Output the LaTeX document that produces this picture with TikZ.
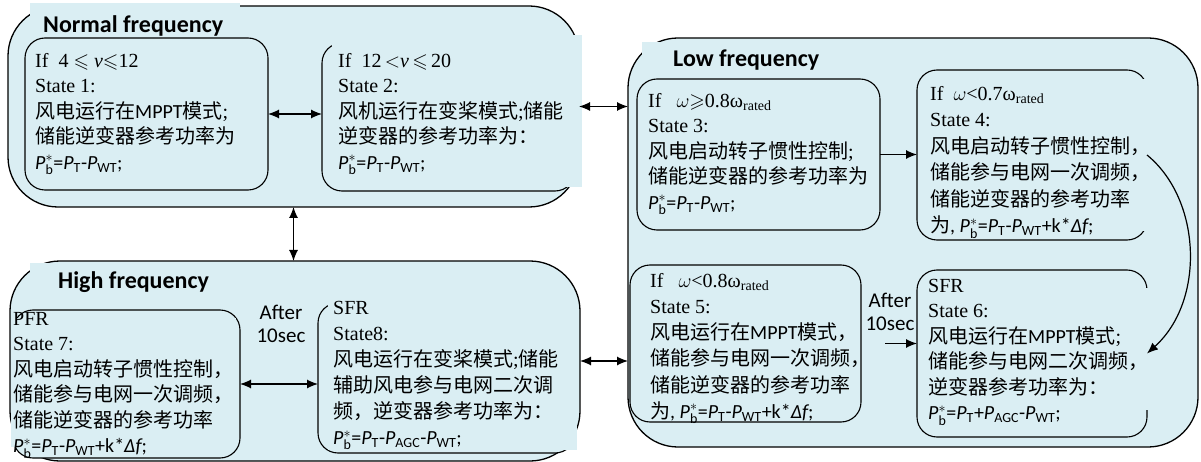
\RequirePackage{fix-cm}
\documentclass[tikz,border=0pt]{standalone}
\usepackage{amsmath,amssymb}
\usepackage{fontspec}
\setmainfont{Liberation Serif}
\setsansfont{Carlito}
\newfontfamily\cjk{Noto Sans CJK SC}
\usetikzlibrary{arrows.meta}
\definecolor{panel}{RGB}{218,238,243}
\newcommand{\Pv}[1]{\ensuremath{\textsf{\itshape P}_{\textsf{#1}}}}
\newcommand{\Pb}{\ensuremath{\textsf{\itshape P}_{\textsf{b}}^{*}}}

\begin{document}
\begin{tikzpicture}[x=1pt,y=-1pt,
    panelbox/.style = {draw, fill=panel, line width=1.3pt, rounded corners=50pt, inner sep=0pt, outer sep=0pt},
    statebox/.style = {draw, fill=panel, line width=1.1pt, rounded corners=20pt, inner sep=0pt, outer sep=0pt},
    cover/.style = {fill=panel},
    txt/.style = {anchor=north west, inner sep=0pt, align=left, font=\fontsize{20}{25.5}\selectfont, execute at begin node=\strut},
    ttl/.style = {anchor=base west, inner sep=0pt, font=\sffamily\bfseries\fontsize{24}{28}\selectfont},
    aft/.style = {anchor=north, inner sep=0pt, align=center, font=\sffamily\fontsize{21}{23}\selectfont, execute at begin node=\strut},
    arrow/.style = {line width=1.2pt,-{Latex[length=11pt,width=9pt]}},
    darrow/.style = {line width=1.2pt,{Latex[length=11pt,width=9pt]}-{Latex[length=11pt,width=9pt]}}]
    \useasboundingbox (0,0) rectangle (1201,462);

    % frequency panels
    \node[panelbox, minimum width=571pt, minimum height=201pt] (normal) at (293.5,106.5) {};
    \node[panelbox, minimum width=570pt, minimum height=409pt] (low)    at (913,242.5)   {};
    \node[panelbox, minimum width=570pt, minimum height=200pt] (high)   at (295,361)     {};

    % states
    \node[statebox, minimum width=243pt, minimum height=152pt] (s1) at (146.5,114)  {};
    \node[statebox, minimum width=253pt, minimum height=148pt] (s2) at (448.5,117)  {};
    \node[statebox, minimum width=243pt, minimum height=151pt] (s3) at (758.5,154.5) {};
    \node[statebox, minimum width=230pt, minimum height=170pt] (s4) at (1032,155)   {};
    \node[statebox, minimum width=231pt, minimum height=157pt] (s5) at (745.5,343.5) {};
    \node[statebox, minimum width=230pt, minimum height=167pt] (s6) at (1032,353.5) {};
    \node[statebox, minimum width=227pt, minimum height=148pt] (s7) at (126.5,384)  {};
    \node[statebox, minimum width=257pt, minimum height=150pt] (s8) at (446.5,378)  {};

    % text box backgrounds
    \fill[cover] (30,3)    rectangle (240,36);
    \fill[cover] (642,42)  rectangle (860,76);
    \fill[cover] (30,263)  rectangle (250,297);
    \fill[cover] (332,35)  rectangle (582,187);
    \fill[cover] (925,79)  rectangle (1152,231);
    \fill[cover] (925,288) rectangle (1152,410);
    \fill[cover] (328,298) rectangle (577,450);
    \fill[cover] (11,318)  rectangle (236,447);

    % titles
    \node[ttl] (tn) at (43,33)  {Normal frequency};
    \node[ttl] (tl) at (673,67) {Low frequency};
    \node[ttl] (th) at (58,288) {High frequency};

    % 1
    \node[txt] (t1) at (35,53) {If~~4 $\leqslant$ \textit{v}$\leqslant$12\\
        State 1:\\
        {\cjk 风电运行在}{\sffamily MPPT}{\cjk 模式};\\
        {\cjk 储能逆变器参考功率为}\\
        {\sffamily\Pb=\Pv{T}-\Pv{WT};}};

    % 2
    \node[txt] (t2) at (338,53) {If~~12\,$<$\textit{v}\,$\leqslant$\,20\\
        State 2:\\
        {\cjk 风机运行在变桨模式};{\cjk 储能}\\
        {\cjk 逆变器的参考功率为：}\\
        {\sffamily\Pb=\Pv{T}-\Pv{WT};}};

    % 3
    \node[txt] (t3) at (648,93) {If~~~$\omega{\geqslant}$0.8ω\textsubscript{rated}\\
        State 3:\\
        {\cjk 风电启动转子惯性控制};\\
        {\cjk 储能逆变器的参考功率为}\\
        {\sffamily\Pb=\Pv{T}-\Pv{WT};}};

    % 4
    \node[txt, font=\fontsize{20}{26.5}\selectfont] (t4) at (930,86) {If~~$\omega$<0.7ω\textsubscript{rated}\\
        State 4:\\
        {\cjk 风电启动转子惯性控制，}\\
        {\cjk 储能参与电网一次调频，}\\
        {\cjk 储能逆变器的参考功率}\\
        {\cjk 为}{\sffamily, \Pb=\Pv{T}-\Pv{WT}+k*{\itshape Δf};}};

    % 5
    \node[txt, font=\fontsize{20}{26.2}\selectfont] (t5) at (650,273) {If~~~$\omega$<0.8ω\textsubscript{rated}\\
        State 5:\\
        {\cjk 风电运行在}{\sffamily MPPT}{\cjk 模式，}\\
        {\cjk 储能参与电网一次调频，}\\
        {\cjk 储能逆变器的参考功率}\\
        {\cjk 为}{\sffamily, \Pb=\Pv{T}-\Pv{WT}+k*{\itshape Δf};}};

    % 6
    \node[txt] (t6) at (928,279) {SFR\\
        State 6:\\
        {\cjk 风电运行在}{\sffamily MPPT}{\cjk 模式};\\
        {\cjk 储能参与电网二次调频，}\\
        {\cjk 逆变器参考功率为：}\\
        {\sffamily\Pb=\Pv{T}+\Pv{AGC}-\Pv{WT};}};

    % 7
    \node[txt] (t7) at (13,312) {PFR\\
        State 7:\\
        {\cjk 风电启动转子惯性控制，}\\
        {\cjk 储能参与电网一次调频，}\\
        {\cjk 储能逆变器的参考功率}\\
        {\sffamily\Pb=\Pv{T}-\Pv{WT}+k*{\itshape Δf};}};

    % 8
    \node[txt, font=\fontsize{20}{26}\selectfont] (t8) at (333,301) {SFR\\
        State8:\\
        {\cjk 风电运行在变桨模式};{\cjk 储能}\\
        {\cjk 辅助风电参与电网二次调}\\
        {\cjk 频，逆变器参考功率为：}\\
        {\sffamily\Pb=\Pv{T}-\Pv{AGC}-\Pv{WT};}};

    % delays
    \node[aft] (ah) at (281,305) {After\\10sec};
    \node[aft] (al) at (890,293) {After\\10sec};
    \coordinate (a5) at (885,343.5);

    % connectors
    \draw[darrow] (normal.east) -- (normal.east -| low.west);
    \draw[darrow] (normal.south) -- (normal.south |- high.north);
    \draw[darrow] (high.east) -- (high.east -| low.west);
    \draw[darrow] (s1.east) -- (s1.east -| s2.west);
    \draw[darrow] (s7.east) -- (s7.east -| s8.west);
    \draw[arrow] (s3.east) -- (s3.east -| s4.west);
    \draw[arrow] (a5) -- (a5 -| s6.west);
    \draw[arrow] (s4.east) .. controls +(55,45) and +(58,-52) .. (s6.east);

\end{tikzpicture}
\end{document}
